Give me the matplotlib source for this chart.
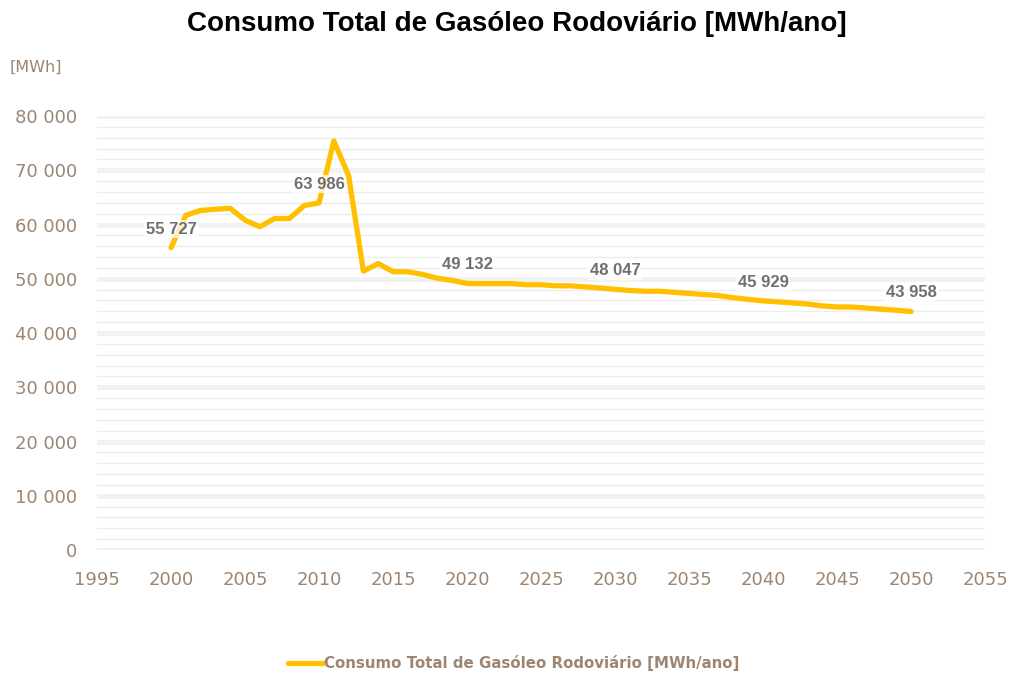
import numpy as np
import matplotlib.pyplot as plt
from matplotlib.ticker import MultipleLocator, FuncFormatter

# Consumo anual de gasóleo rodoviário (MWh), histórico e projeção
anos = list(range(2000, 2051))
consumo = [
    55727, 61700, 62600, 62800, 63000, 60800, 59600, 61100, 61100, 63500,
    63986, 75400, 69000, 51400, 52800, 51300, 51300, 50800, 50100, 49700,
    49132, 49100, 49100, 49100, 48900, 48900, 48700, 48700, 48500, 48300,
    48047, 47850, 47700, 47700, 47500, 47300, 47100, 46900, 46500, 46200,
    45929, 45750, 45550, 45350, 45000, 44800, 44800, 44600, 44400, 44200,
    43958,
]
anos_rotulo = [2000, 2010, 2020, 2030, 2040, 2050]

cor_linha = '#FFC000'
cor_texto = '#9c8673'
cor_rotulo = '#707070'

def fmt_milhares(v, pos=None):
    return f"{v:,.0f}".replace(",", " ")

fig = plt.figure(figsize=(10.16, 6.75), dpi=100)
ax = fig.add_axes([0.0955, 0.1852, 0.874, 0.6429])

ax.plot(anos, consumo, color=cor_linha, lw=3.8, solid_capstyle='round',
        label='Consumo Total de Gasóleo Rodoviário [MWh/ano]', zorder=3)

for a in anos_rotulo:
    v = consumo[anos.index(a)]
    ax.annotate(fmt_milhares(v), (a, v), xytext=(0, 8), textcoords='offset points',
                ha='center', va='bottom', fontsize=12, fontweight='bold',
                color=cor_rotulo, family='Liberation Sans', zorder=4,
                bbox=dict(boxstyle='square,pad=0.1', fc='white', ec='none', alpha=0.75))

ax.set_xlim(1995, 2055)
ax.set_ylim(0, 80000)
ax.xaxis.set_major_locator(MultipleLocator(5))
ax.yaxis.set_major_locator(MultipleLocator(10000))
ax.yaxis.set_minor_locator(MultipleLocator(2000))
ax.yaxis.set_major_formatter(FuncFormatter(fmt_milhares))

ax.grid(axis='y', which='major', color='#f2f2f2', lw=3.5, zorder=0)
ax.grid(axis='y', which='minor', color='#ededed', lw=1.0, zorder=0)
ax.set_axisbelow(True)
for s in ax.spines.values():
    s.set_visible(False)
ax.tick_params(which='both', length=0, labelsize=13, labelcolor=cor_texto)
ax.tick_params(axis='y', pad=14)
ax.tick_params(axis='x', pad=15)

fig.suptitle('Consumo Total de Gasóleo Rodoviário [MWh/ano]', x=0.509, y=0.983,
             fontsize=20, fontweight='bold', family='Liberation Sans')
fig.text(0.009, 0.9, '[MWh]', fontsize=11.5, color=cor_texto, va='center')

leg = fig.legend(loc='center', bbox_to_anchor=(0.506, 0.018), frameon=False,
                 handlelength=2.3, handletextpad=0.1,
                 prop={'weight': 'bold', 'size': 10.8}, labelcolor=cor_texto)

fig.savefig('out.png', dpi=100)
